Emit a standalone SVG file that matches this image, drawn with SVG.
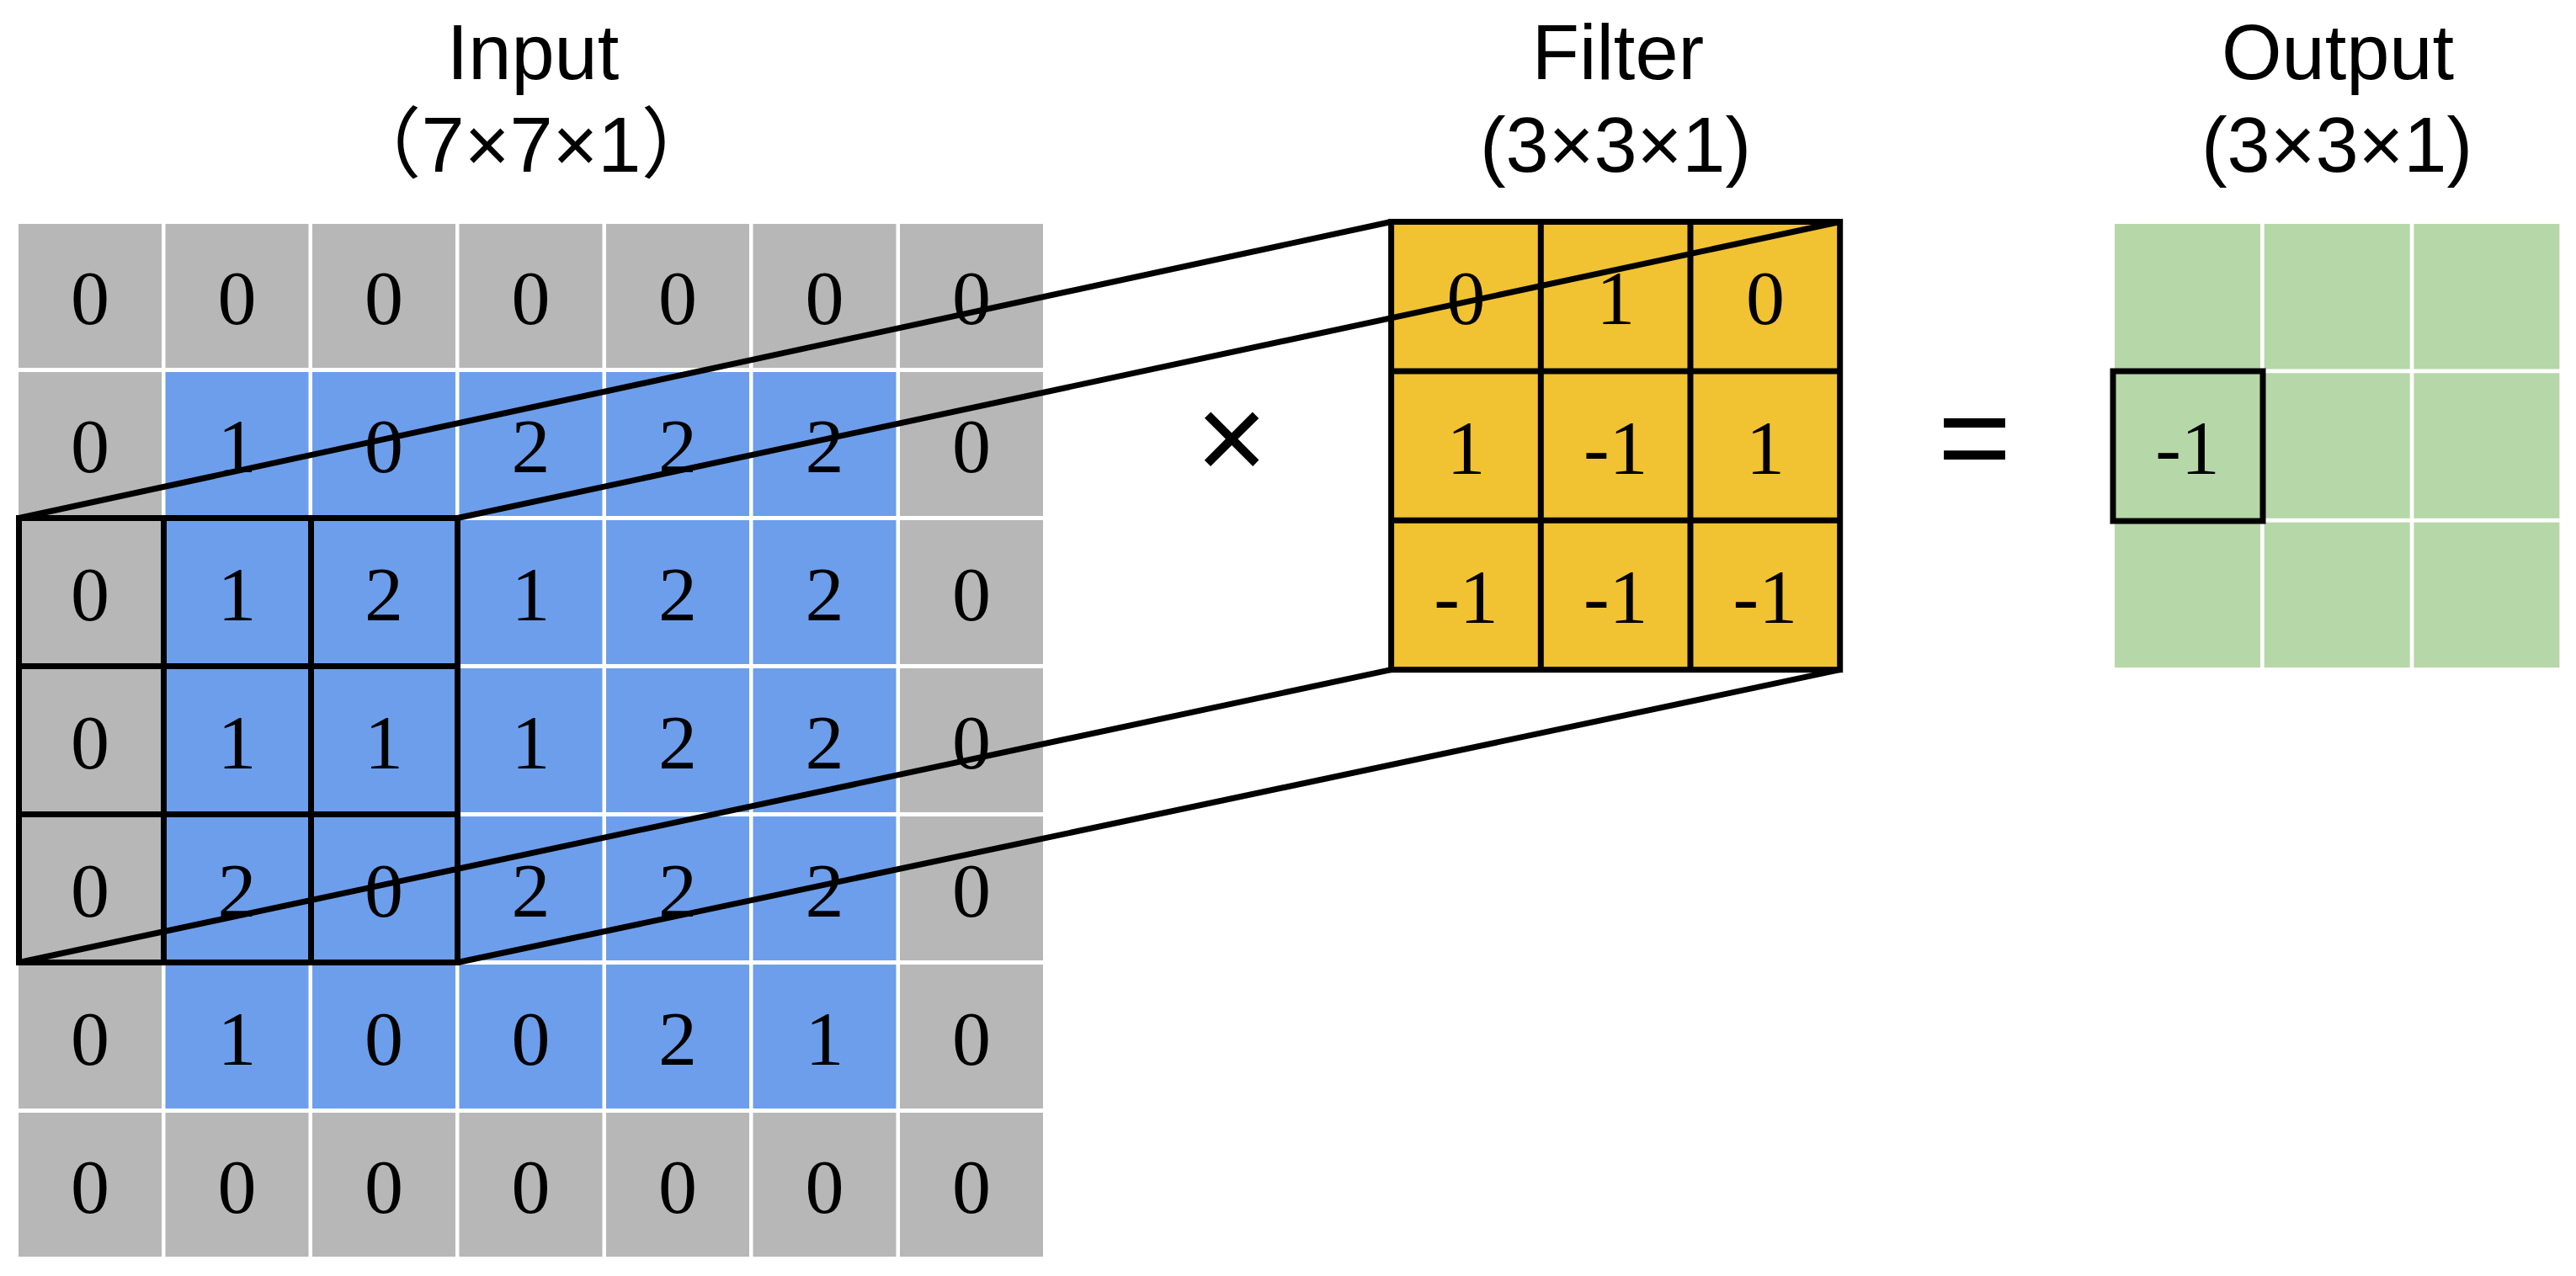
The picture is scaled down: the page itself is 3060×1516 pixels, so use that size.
<svg xmlns="http://www.w3.org/2000/svg" width="3060" height="1516" viewBox="0 0 3060 1516">
<style>
.g{fill:#B7B7B7}
.b{fill:#6D9EEB}
.y{fill:#F1C232}
.gr{fill:#B6D7A8}
.d{font-family:"Liberation Serif","Times New Roman",serif;font-size:92px;fill:#000;text-anchor:middle}
.t{font-family:"Liberation Sans",Arial,"Noto Sans CJK SC",sans-serif;font-size:92px;fill:#000;text-anchor:middle}
.k{fill:none;stroke:#000;stroke-width:7;stroke-linejoin:miter}
.c{stroke:#000;stroke-width:7;fill:none}
</style>
<rect width="3060" height="1516" fill="#fff"/>
<g id="titles">
<text class="t" x="633" y="94">Input</text>
<text class="t" x="631" y="204">（7×7×1）</text>
<text class="t" x="1922" y="94">Filter</text>
<text class="t" x="1919" y="204">(3×3×1)</text>
<text class="t" x="2777" y="94">Output</text>
<text class="t" x="2776" y="204">(3×3×1)</text>
</g>
<g id="input">
<rect class="g" x="22" y="266" width="170" height="171"/><rect class="g" x="196.5" y="266" width="170" height="171"/><rect class="g" x="371" y="266" width="170" height="171"/><rect class="g" x="545.5" y="266" width="170" height="171"/><rect class="g" x="720" y="266" width="170" height="171"/><rect class="g" x="894.5" y="266" width="170" height="171"/><rect class="g" x="1069" y="266" width="170" height="171"/>
<rect class="g" x="22" y="442" width="170" height="171"/><rect class="b" x="196.5" y="442" width="170" height="171"/><rect class="b" x="371" y="442" width="170" height="171"/><rect class="b" x="545.5" y="442" width="170" height="171"/><rect class="b" x="720" y="442" width="170" height="171"/><rect class="b" x="894.5" y="442" width="170" height="171"/><rect class="g" x="1069" y="442" width="170" height="171"/>
<rect class="g" x="22" y="618" width="170" height="171"/><rect class="b" x="196.5" y="618" width="170" height="171"/><rect class="b" x="371" y="618" width="170" height="171"/><rect class="b" x="545.5" y="618" width="170" height="171"/><rect class="b" x="720" y="618" width="170" height="171"/><rect class="b" x="894.5" y="618" width="170" height="171"/><rect class="g" x="1069" y="618" width="170" height="171"/>
<rect class="g" x="22" y="794" width="170" height="171"/><rect class="b" x="196.5" y="794" width="170" height="171"/><rect class="b" x="371" y="794" width="170" height="171"/><rect class="b" x="545.5" y="794" width="170" height="171"/><rect class="b" x="720" y="794" width="170" height="171"/><rect class="b" x="894.5" y="794" width="170" height="171"/><rect class="g" x="1069" y="794" width="170" height="171"/>
<rect class="g" x="22" y="970" width="170" height="171"/><rect class="b" x="196.5" y="970" width="170" height="171"/><rect class="b" x="371" y="970" width="170" height="171"/><rect class="b" x="545.5" y="970" width="170" height="171"/><rect class="b" x="720" y="970" width="170" height="171"/><rect class="b" x="894.5" y="970" width="170" height="171"/><rect class="g" x="1069" y="970" width="170" height="171"/>
<rect class="g" x="22" y="1146" width="170" height="171"/><rect class="b" x="196.5" y="1146" width="170" height="171"/><rect class="b" x="371" y="1146" width="170" height="171"/><rect class="b" x="545.5" y="1146" width="170" height="171"/><rect class="b" x="720" y="1146" width="170" height="171"/><rect class="b" x="894.5" y="1146" width="170" height="171"/><rect class="g" x="1069" y="1146" width="170" height="171"/>
<rect class="g" x="22" y="1322" width="170" height="171"/><rect class="g" x="196.5" y="1322" width="170" height="171"/><rect class="g" x="371" y="1322" width="170" height="171"/><rect class="g" x="545.5" y="1322" width="170" height="171"/><rect class="g" x="720" y="1322" width="170" height="171"/><rect class="g" x="894.5" y="1322" width="170" height="171"/><rect class="g" x="1069" y="1322" width="170" height="171"/>
<text class="d" x="107" y="385">0</text><text class="d" x="281.5" y="385">0</text><text class="d" x="456" y="385">0</text><text class="d" x="630.5" y="385">0</text><text class="d" x="805" y="385">0</text><text class="d" x="979.5" y="385">0</text><text class="d" x="1154" y="385">0</text>
<text class="d" x="107" y="561">0</text><text class="d" x="281.5" y="561">1</text><text class="d" x="456" y="561">0</text><text class="d" x="630.5" y="561">2</text><text class="d" x="805" y="561">2</text><text class="d" x="979.5" y="561">2</text><text class="d" x="1154" y="561">0</text>
<text class="d" x="107" y="737">0</text><text class="d" x="281.5" y="737">1</text><text class="d" x="456" y="737">2</text><text class="d" x="630.5" y="737">1</text><text class="d" x="805" y="737">2</text><text class="d" x="979.5" y="737">2</text><text class="d" x="1154" y="737">0</text>
<text class="d" x="107" y="913">0</text><text class="d" x="281.5" y="913">1</text><text class="d" x="456" y="913">1</text><text class="d" x="630.5" y="913">1</text><text class="d" x="805" y="913">2</text><text class="d" x="979.5" y="913">2</text><text class="d" x="1154" y="913">0</text>
<text class="d" x="107" y="1089">0</text><text class="d" x="281.5" y="1089">2</text><text class="d" x="456" y="1089">0</text><text class="d" x="630.5" y="1089">2</text><text class="d" x="805" y="1089">2</text><text class="d" x="979.5" y="1089">2</text><text class="d" x="1154" y="1089">0</text>
<text class="d" x="107" y="1265">0</text><text class="d" x="281.5" y="1265">1</text><text class="d" x="456" y="1265">0</text><text class="d" x="630.5" y="1265">0</text><text class="d" x="805" y="1265">2</text><text class="d" x="979.5" y="1265">1</text><text class="d" x="1154" y="1265">0</text>
<text class="d" x="107" y="1441">0</text><text class="d" x="281.5" y="1441">0</text><text class="d" x="456" y="1441">0</text><text class="d" x="630.5" y="1441">0</text><text class="d" x="805" y="1441">0</text><text class="d" x="979.5" y="1441">0</text><text class="d" x="1154" y="1441">0</text>
</g>
<g id="window">
<rect class="k" x="22.5" y="615.5" width="521" height="528"/>
<path class="c" d="M194.5 615.5V1143.5M369.5 615.5V1143.5M22.5 791.5H543.5M22.5 967.5H543.5"/>
</g>
<g id="times-sign"><text class="t" x="1463" y="570" style="font-size:145px">×</text></g>
<g id="filter">
<rect class="y" x="1652.6" y="263.5" width="533.1" height="532.2"/>
<rect class="k" x="1652.6" y="263.5" width="533.1" height="532.2"/>
<path class="c" d="M1830.3 263.5V795.7M2008 263.5V795.7M1652.6 440.9H2185.7M1652.6 618.3H2185.7"/>
<text class="d" x="1741.5" y="385">0</text><text class="d" x="1919.2" y="385">1</text><text class="d" x="2096.9" y="385">0</text>
<text class="d" x="1741.5" y="563">1</text><text class="d" x="1919.2" y="563">-1</text><text class="d" x="2096.9" y="563">1</text>
<text class="d" x="1741.5" y="740">-1</text><text class="d" x="1919.2" y="740">-1</text><text class="d" x="2096.9" y="740">-1</text>
</g>
<g id="equals-sign"><text class="t" x="2345.5" y="571" style="font-size:150px">=</text></g>
<g id="output">
<rect class="gr" x="2512" y="266" width="173" height="172.5"/><rect class="gr" x="2689.7" y="266" width="173" height="172.5"/><rect class="gr" x="2867.4" y="266" width="173" height="172.5"/>
<rect class="gr" x="2512" y="443.3" width="173" height="172.5"/><rect class="gr" x="2689.7" y="443.3" width="173" height="172.5"/><rect class="gr" x="2867.4" y="443.3" width="173" height="172.5"/>
<rect class="gr" x="2512" y="620.6" width="173" height="172.5"/><rect class="gr" x="2689.7" y="620.6" width="173" height="172.5"/><rect class="gr" x="2867.4" y="620.6" width="173" height="172.5"/>
<rect class="k" x="2510" y="441" width="178" height="178"/>
<text class="d" x="2598.5" y="563">-1</text>
</g>
<g id="connectors">
<path class="c" d="M22.5 615.5L1652.6 263.5M543.5 615.5L2185.7 263.5M22.5 1143.5L1652.6 795.7M543.5 1143.5L2185.7 795.7"/>
</g>
</svg>
